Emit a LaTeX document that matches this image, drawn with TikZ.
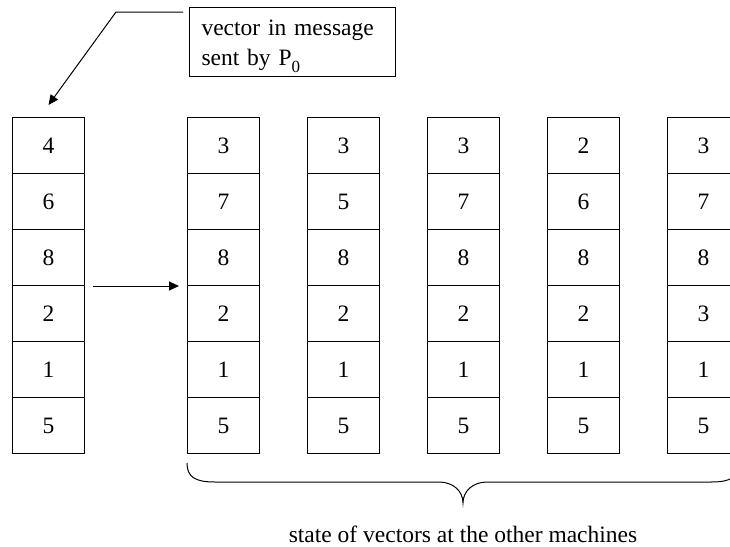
\documentclass[tikz,border=0pt]{standalone}
\usepackage{fontspec}
\setmainfont{Liberation Serif}
\usetikzlibrary{arrows.meta,calc}

\begin{document}
\begin{tikzpicture}[x=1pt,y=-1pt,
  line width=1pt,
  every node/.style={font=\fontsize{23.5}{30}\selectfont},
  cell/.style={draw,rectangle,minimum width=72pt,minimum height=56pt,
    inner sep=0pt,anchor=north west},
  tip/.style={-{Triangle[length=10pt,width=9pt]}}]
  \useasboundingbox (0,0) rectangle (730,546);
  \clip (0,0) rectangle (730,546);

  % vector columns: index / left edge / entries from top to bottom
  \foreach \col/\x/\vals in {0/12/{4,6,8,2,1,5},1/187/{3,7,8,2,1,5},
      2/307/{3,5,8,2,1,5},3/427/{3,7,8,2,1,5},4/547/{2,6,8,2,1,5},
      5/667/{3,7,8,3,1,5}}{
    \foreach \v [count=\r] in \vals {
      \node[cell] (c\col\r) at (\x,{117+56*(\r-1)}) {\v};
    }
  }

  % message label with leader to the sent vector
  \node[draw,rectangle,anchor=north west,minimum width=206pt,minimum height=69pt,
    text width=182pt,inner xsep=12pt,inner ysep=0pt,align=left]
    (msg) at (189,7)
    {\rule{0pt}{24pt}vector in message\\
     sent by P\raisebox{-7pt}{\fontsize{17}{17}\selectfont 0}};
  \coordinate (bend) at (116,12);
  \draw[tip] ($(msg.north west)+(-6,5)$) -- (bend) -- ($(c01.north)+(0,-12)$);

  % message delivery arrow
  \draw[tip] ($(c03.south east)+(8,0)$) -- ($(c13.south west)+(-8,0)$);

  % brace under the receiving machines
  \coordinate (bl) at ($(c16.south west)+(0,9)$);
  \coordinate (br) at ($(c56.south west)+(72,9)$);
  \coordinate (bm) at ($(bl)!0.5!(br)+(0,40)$);
  \draw ($(bl)$) .. controls ($(bl)+(0,14)$) and ($(bl)+(8,19)$) .. ($(bl)+(28,19)$)
        -- ($(bm)+(-24,-21)$)
        .. controls ($(bm)+(-10,-21)$) and ($(bm)+(0,-12)$) .. (bm)
        .. controls ($(bm)+(0,-12)$) and ($(bm)+(10,-21)$) .. ($(bm)+(24,-21)$)
        -- ($(br)+(-28,19)$)
        .. controls ($(br)+(-8,19)$) and ($(br)+(0,14)$) .. (br);

  \node[anchor=base] (caption) at ($(bm)+(0,39)$) {state of vectors at the other machines};
\end{tikzpicture}
\end{document}
